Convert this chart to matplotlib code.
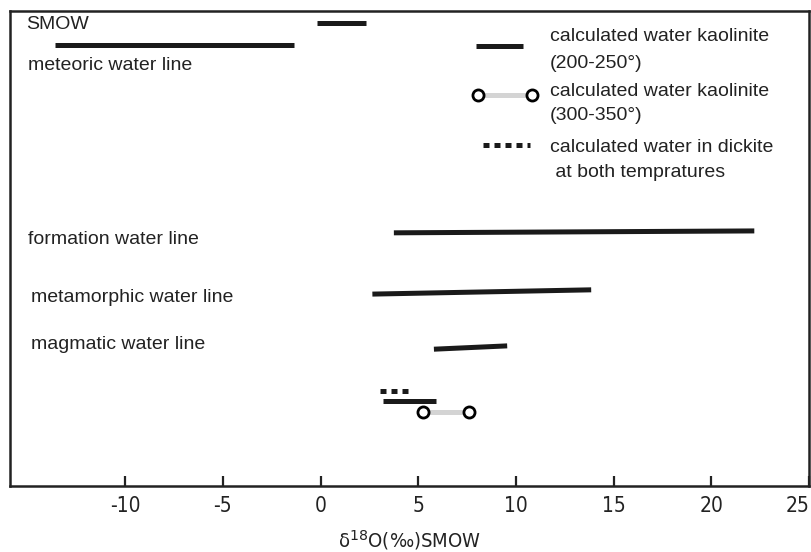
import matplotlib
matplotlib.use("Agg")
import matplotlib.pyplot as plt
from matplotlib import font_manager

cond_path = None
for f in font_manager.fontManager.ttflist:
    if "DejaVuSansCondensed.ttf" in f.fname or "LiberationSansNarrow-Regular" in f.fname:
        cond_path = f.fname

SANS = "Liberation Sans"
if cond_path:
    tick_fp = font_manager.FontProperties(fname=cond_path, size=15)
    xl_fp = font_manager.FontProperties(fname=cond_path, size=14.5)
else:
    tick_fp = font_manager.FontProperties(family=SANS, size=14)
    xl_fp = font_manager.FontProperties(family=SANS, size=14)

# ---- data (delta18O ranges, permil SMOW) ----
water_names = ["SMOW", "meteoric water line", "formation water line",
               "metamorphic water line", "magmatic water line"]
water_x0 = [-0.2, -13.6, 3.75, 2.65, 5.8]
water_x1 = [2.3, -1.35, 22.2, 13.85, 9.55]
water_y0 = [97.5, 92.8, 53.3, 40.4, 28.8]
water_y1 = [97.5, 92.8, 53.7, 41.3, 29.5]
label_x = [-15.05, -15.0, -15.0, -14.8, -14.85]
label_y = [97.2, 88.6, 52.0, 39.6, 29.7]

kaol_low = [3.2, 5.9]      # kaolinite 200-250 deg
kaol_low_y = [17.9, 17.9]
kaol_high = [5.25, 7.6]    # kaolinite 300-350 deg
kaol_high_y = [15.6, 15.6]
dickite = [3.05, 4.45]
dickite_y = [20.0, 20.0]

xticks = [-10, -5, 0, 5, 10, 15, 20, 25]
xlim = (-15.9, 24.95)

legend_labels = ["calculated water kaolinite", "(200-250°)",
                 "calculated water kaolinite", "(300-350°)",
                 "calculated water in dickite", " at both tempratures"]
legend_text_y = [94.6, 89.0, 83.1, 78.0, 71.3, 66.0]

fig = plt.figure(figsize=(8.11, 5.52), dpi=100)
ax = fig.add_axes([10/811, (552-486)/552, (809-10)/811, (486-11)/552])
ax.set_xlim(*xlim)
ax.set_ylim(0, 100)

LW = 3.6
for x0, x1, y0, y1 in zip(water_x0, water_x1, water_y0, water_y1):
    ax.plot([x0, x1], [y0, y1], color="#1a1a1a", lw=LW, solid_capstyle="butt")
for name, lx, ly in zip(water_names, label_x, label_y):
    ax.text(lx, ly, name, fontsize=14, family=SANS, va="center", ha="left", color="#222222")

# sample data
ax.plot(dickite, dickite_y, color="#1a1a1a", lw=LW, dashes=(1.2, 1.0), dash_capstyle="butt")
ax.plot(kaol_low, kaol_low_y, color="#1a1a1a", lw=LW, solid_capstyle="butt")
ax.plot(kaol_high, kaol_high_y, color="#d4d4d4", lw=LW, solid_capstyle="butt", zorder=2)
ax.plot(kaol_high, kaol_high_y, ls="none", marker="o", ms=8, mfc="white", mec="black", mew=2.0, zorder=3)

# legend (manual)
ax.plot([7.93, 10.37], [92.6, 92.6], color="#1a1a1a", lw=LW, solid_capstyle="butt")
ax.plot([8.07, 10.83], [82.3, 82.3], color="#d4d4d4", lw=LW, solid_capstyle="butt", zorder=2)
ax.plot([8.07, 10.83], [82.3, 82.3], ls="none", marker="o", ms=8, mfc="white", mec="black", mew=2.0, zorder=3)
ax.plot([8.33, 10.72], [71.8, 71.8], color="#1a1a1a", lw=LW, dashes=(1.2, 1.0), dash_capstyle="butt")
for t, ty in zip(legend_labels, legend_text_y):
    ax.text(11.72, ty, t, fontsize=14, family=SANS, va="center", ha="left", color="#222222")

ax.set_yticks([])
ax.set_xticks(xticks)
ax.set_xticklabels([str(t) for t in xticks])
for lab in ax.get_xticklabels():
    lab.set_fontproperties(tick_fp)
ax.get_xticklabels()[-1].set_horizontalalignment("right")
ax.tick_params(axis="x", direction="in", length=7, width=1.6, pad=7, colors="#222222")
for s in ax.spines.values():
    s.set_linewidth(1.8)
    s.set_color("#222222")
ax.set_xlabel("δ$^{18}$O(‰)SMOW", fontproperties=xl_fp, labelpad=9, color="#222222")

fig.savefig("out.png", dpi=100)
